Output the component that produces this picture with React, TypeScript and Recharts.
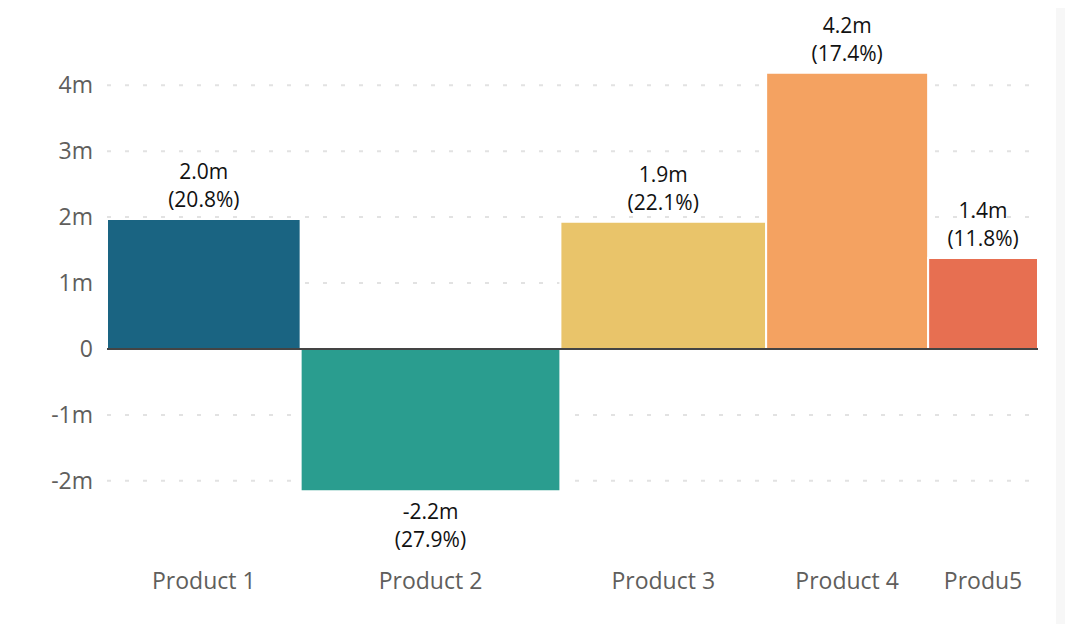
import React from 'react';
import {
  ComposedChart,
  XAxis,
  YAxis,
  CartesianGrid,
  ReferenceArea,
  ReferenceLine,
  Scatter,
} from 'recharts';

const products = ['Product 1', 'Product 2', 'Product 3', 'Product 4', 'Produ5'];
const values = [1.97, -2.16, 1.93, 4.19, 1.38];
const shares = [20.8, 27.9, 22.1, 17.4, 11.8];
const colors = ['#1A6482', '#2A9D8F', '#E9C46A', '#F4A261', '#E76F51'];
const yTicks = [-2, -1, 0, 1, 2, 3, 4];

// cumulative start / end of every column on the share axis
const rows = products.map((name, i) => {
  const start = shares.slice(0, i).reduce((a, b) => a + b, 0);
  const end = start + shares[i];
  return { name, value: values[i], share: shares[i], start, end, mid: (start + end) / 2 };
});
const total = rows[rows.length - 1].end;

const font = '"Open Sans", "Noto Sans", sans-serif';

const BarLabel = ({ viewBox, row }: any) => {
  if (!viewBox) return null;
  const cx = viewBox.x + viewBox.width / 2;
  const top = viewBox.y;
  const bottom = viewBox.y + viewBox.height;
  const pos = row.value >= 0;
  const y1 = pos ? top - 40 : bottom + 28;
  const y2 = pos ? top - 12 : bottom + 56;
  return (
    <g fontFamily={font} fontSize={21} fill="#111">
      <text x={cx} y={y1} textAnchor="middle">{`${row.value.toFixed(1)}m`}</text>
      <text x={cx} y={y2} textAnchor="middle">{`(${row.share.toFixed(1)}%)`}</text>
    </g>
  );
};

export default function App() {
  return (
    <div style={{ margin: -8, width: 1073, height: 632, display: 'flex', background: '#fff' }}>
      <ComposedChart
        width={1056}
        height={632}
        data={rows}
        margin={{ top: 72, right: 18, bottom: 0, left: 0 }}
      >
        <CartesianGrid
          vertical={false}
          horizontalValues={yTicks.filter((t) => t !== 0)}
          stroke="#e2e2e2"
          strokeWidth={2}
          strokeDasharray="4 14"
        />
        <XAxis
          type="number"
          dataKey="mid"
          domain={[0, total]}
          allowDataOverflow
          ticks={rows.map((r) => r.mid)}
          tickFormatter={(_v: number, i: number) => products[i]}
          axisLine={false}
          tickLine={false}
          height={138}
          tickMargin={73}
          interval={0}
          tick={{ fill: '#605E5C', fontSize: 23, fontFamily: font }}
        />
        <YAxis
          type="number"
          domain={[-2.2, 4.2]}
          ticks={yTicks}
          allowDataOverflow
          width={107}
          axisLine={false}
          tickLine={false}
          tickMargin={8}
          tickFormatter={(v: number) => (v === 0 ? '0' : `${v}m`)}
          tick={{ fill: '#605E5C', fontSize: 23, fontFamily: font }}
        />
        {rows.map((r, i) => (
          <ReferenceArea
            key={r.name}
            x1={r.start}
            x2={r.end}
            y1={0}
            y2={r.value}
            ifOverflow="visible"
            fill={colors[i]}
            fillOpacity={1}
            stroke="#fff"
            strokeWidth={2}
            label={(props: any) => <BarLabel {...props} row={r} />}
          />
        ))}
        <ReferenceLine y={0} stroke="#444" strokeWidth={2} />
        <Scatter dataKey="value" fill="none" isAnimationActive={false} />
      </ComposedChart>
      <div style={{ width: 17, height: 632, background: '#F7F7F7' }} />
    </div>
  );
}
